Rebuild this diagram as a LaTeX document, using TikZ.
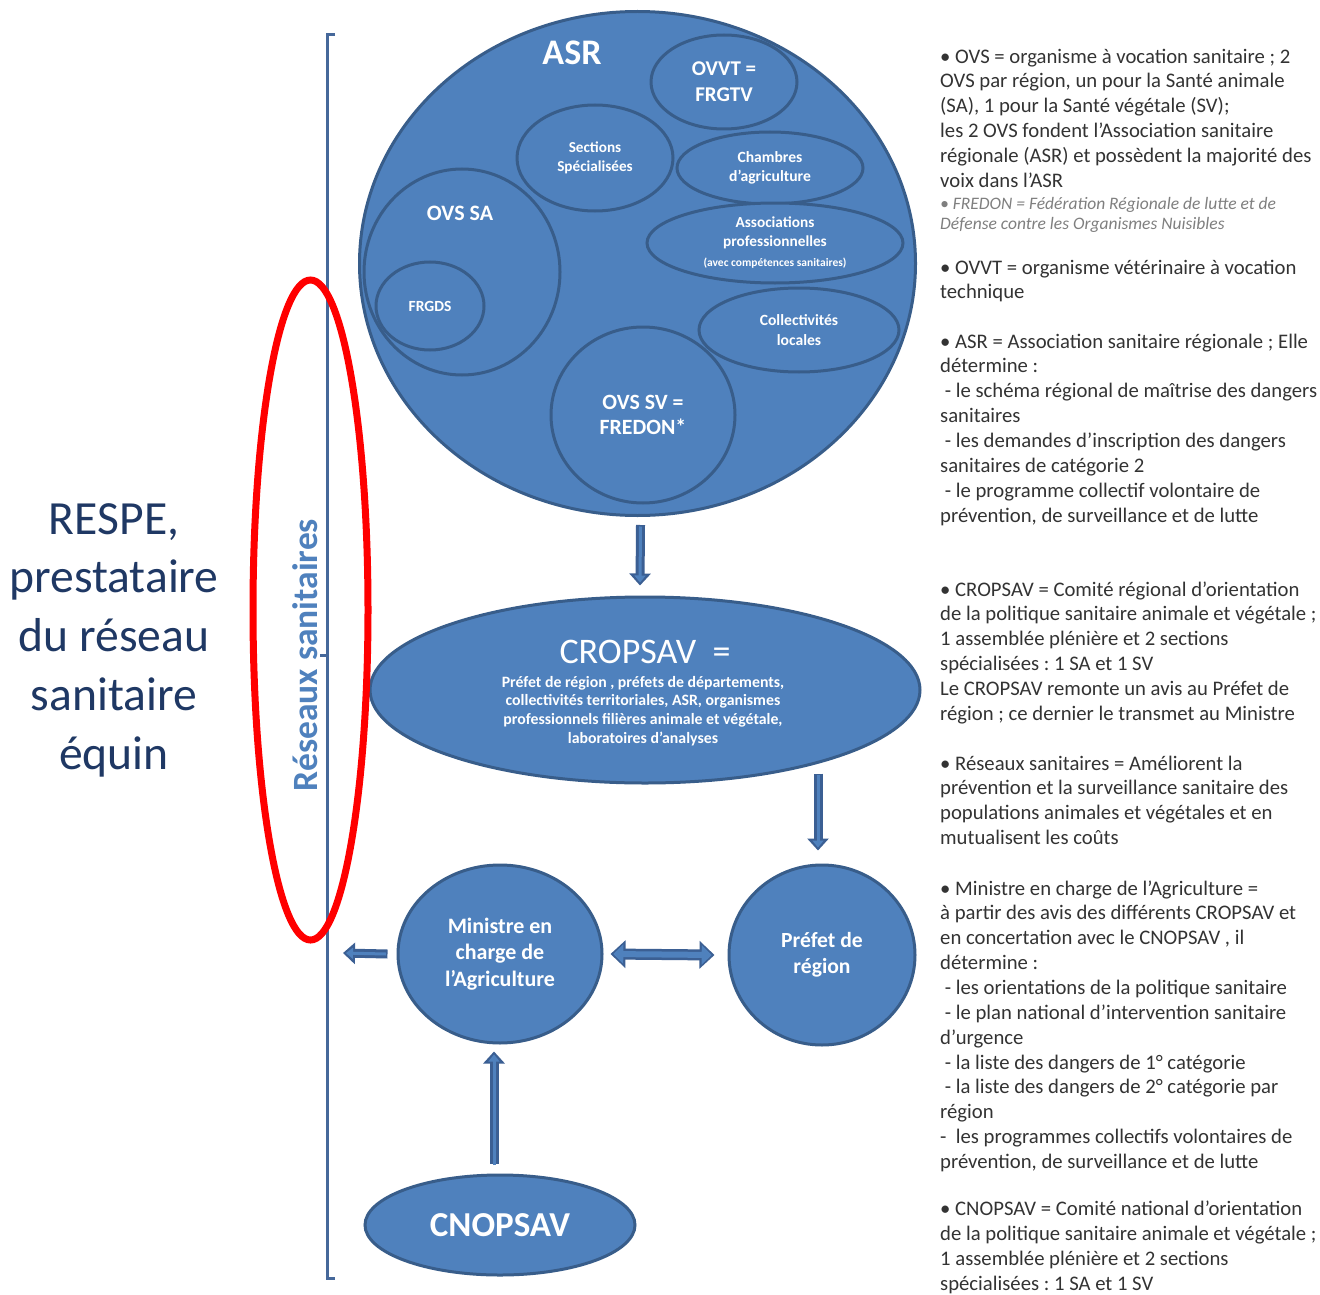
\documentclass[tikz,border=0pt]{standalone}
\usepackage{fontspec}
\setmainfont{Carlito}
\usetikzlibrary{shapes.geometric,arrows.meta,calc}
\frenchspacing
\definecolor{fillb}{HTML}{4F81BD}
\definecolor{lineb}{HTML}{385D8A}
\definecolor{arrb}{HTML}{3B5F93}
\definecolor{brkc}{HTML}{46689A}
\definecolor{navy}{HTML}{1F3864}
\definecolor{txtg}{HTML}{333333}
\definecolor{fredg}{HTML}{7F7F7F}
\newcommand\fsz[2]{\fontsize{#1}{#2}\selectfont}
\tikzset{
  blob/.style={ellipse, draw=lineb, line width=3pt, fill=fillb, inner sep=0pt, text=white, align=center},
  lbl/.style={text=white, align=center, inner sep=0pt},
  arrout/.style={draw=arrb, line width=9pt, -{Triangle[length=12pt,width=21pt]}},
  arrin/.style={draw=fillb, line width=3pt, -{Triangle[length=7pt,width=11pt]}, shorten >=3pt},
  dblout/.style={draw=arrb, line width=11pt, {Triangle[length=15pt,width=27pt]}-{Triangle[length=15pt,width=27pt]}},
  dblin/.style={draw=fillb, line width=6pt, {Triangle[length=10pt,width=19pt]}-{Triangle[length=10pt,width=19pt]}, shorten >=2.8pt, shorten <=2.8pt},
  rtxt/.style={anchor=base west, align=left, inner sep=0pt, text=txtg, font=\fsz{20.7}{24.85}\frenchspacing},
  brk/.style={draw=brkc, line width=3pt}
}
\begin{document}
\begin{tikzpicture}[x=1pt,y=-1pt]
\path[use as bounding box, fill=white] (0,0) rectangle (1320,1295);

% bracket and vertical label
\draw[brk] (335,35) -- (327,35) -- (327,1278) -- (335,1278);
\draw[brk] (327,655) -- (320,655);
\node[rotate=90, text=fillb, inner sep=0pt, font=\fsz{35.5}{40}\bfseries] (resx) at (305,655) {Réseaux sanitaires};

% left label
\node[align=center, text=navy, inner sep=0pt, font=\fsz{47.6}{58.7}] (respe) at (114,640) {RESPE,\\prestataire\\du réseau\\sanitaire\\équin};

% ASR
\node[blob, minimum width=556pt, minimum height=504pt] (asr) at (637.5,263.5) {};
\node[lbl, font=\fsz{36}{40}\bfseries] (asrl) at (572,53) {ASR};
\node[blob, minimum width=196pt, minimum height=206pt] (ovssa) at (462,272) {};
\node[lbl, font=\fsz{22}{24}\bfseries] (ovssal) at (460,213) {OVS SA};
\node[blob, minimum width=108pt, minimum height=88pt, font=\fsz{15.5}{18}\bfseries] (frgds) at (430,306) {FRGDS};
\node[blob, minimum width=156pt, minimum height=106pt, font=\fsz{15.2}{18.5}\bfseries] (sect) at (595,158) {Sections\\Spécialisées};
\node[blob, minimum width=146pt, minimum height=94pt, font=\fsz{21}{26}\bfseries] (ovvt) at (724,82) {OVVT =\\FRGTV};
\node[blob, minimum width=186pt, minimum height=72pt, font=\fsz{15.6}{19}\bfseries] (chamb) at (770,168) {Chambres\\d’agriculture};
\node[blob, minimum width=256pt, minimum height=80pt, font=\fsz{15.3}{19}\bfseries] (assoc) at (775,243) {Associations\\professionnelles\\[1pt]{\fsz{11.5}{13}(avec compétences sanitaires)}};
\node[blob, minimum width=200pt, minimum height=84pt, font=\fsz{15.6}{20}\bfseries] (coll) at (799,330) {Collectivités\\locales};
\node[blob, minimum width=184pt, minimum height=176pt, font=\fsz{21.8}{25}\bfseries] (ovssv) at (643,415) {OVS SV =\\FREDON*};

% CROPSAV
\node[blob, minimum width=550pt, minimum height=186pt] (crop) at (645,690) {};
\node[lbl, font=\fsz{36}{40}] (cropt) at (645,652) {CROPSAV\ \ =};
\node[lbl, font=\fsz{15.8}{18.7}\bfseries] (crops) at (643,711) {Préfet de région , préfets de départements,\\collectivités territoriales, ASR, organismes\\professionnels filières animale et végétale,\\laboratoires d’analyses};

% lower nodes
\node[blob, minimum width=204pt, minimum height=178pt, font=\fsz{22}{26.5}\bfseries] (mini) at (500,954) {Ministre en\\charge de\\l’Agriculture};
\node[blob, minimum width=186pt, minimum height=180pt, font=\fsz{21.6}{26}\bfseries] (pref) at (822,955) {Préfet de\\région};
\node[blob, minimum width=270pt, minimum height=100pt, font=\fsz{35}{40}\bfseries] (cnop) at (500,1225) {CNOPSAV};
\coordinate (leftend) at (343,953);

% arrows
\draw[arrout] ([xshift=3pt,yshift=-8pt]asr.south) -- ([xshift=-5pt,yshift=10pt]crop.north);
\draw[arrin]  ([xshift=3pt,yshift=-9.5pt]asr.south) -- ([xshift=-5pt,yshift=10pt]crop.north);
\draw[arrout] ($(pref.north |- crop.south)+(-4,-11)$) -- ($(pref.north)+(-4,-13)$);
\draw[arrin]  ($(pref.north |- crop.south)+(-4,-9.5)$) -- ($(pref.north)+(-4,-13)$);
\draw[arrout] ([xshift=-9pt]mini.west) -- (leftend);
\draw[arrin]  ([xshift=-10.5pt]mini.west) -- (leftend);
\draw[arrout] ([xshift=-6pt,yshift=10pt]cnop.north) -- ([xshift=-6pt,yshift=-7pt]mini.south);
\draw[arrin]  ([xshift=-6pt,yshift=8.5pt]cnop.north) -- ([xshift=-6pt,yshift=-7pt]mini.south);
\draw[dblout] ([xshift=7pt]mini.east) -- ([xshift=-13pt]pref.west);
\draw[dblin]  ([xshift=7pt]mini.east) -- ([xshift=-13pt]pref.west);

% right-hand text (anchored at the baseline of the last line)
\node[rtxt] (t1) at (940,187.3) {• OVS = organisme à vocation sanitaire ; 2\\OVS par région, un pour la Santé animale\\(SA), 1 pour la Santé végétale (SV);\\les 2 OVS fondent l’Association sanitaire\\régionale (ASR) et possèdent la majorité des\\voix dans l’ASR};
\node[rtxt, text=fredg, font=\fsz{17.5}{20}\itshape] (t2) at (940,229) {• FREDON = Fédération Régionale de lutte et de\\Défense contre les Organismes Nuisibles};
\node[rtxt] (t3) at (940,298.9) {• OVVT = organisme vétérinaire à vocation\\technique};
\node[rtxt] (t4) at (940,522) {• ASR = Association sanitaire régionale ; Elle\\détermine :\\\ - le schéma régional de maîtrise des dangers\\sanitaires\\\ - les demandes d’inscription des dangers\\sanitaires de catégorie 2\\\ - le programme collectif volontaire de\\prévention, de surveillance et de lutte};
\node[rtxt] (t5) at (940,720.3) {• CROPSAV = Comité régional d’orientation\\de la politique sanitaire animale et végétale ;\\1 assemblée plénière et 2 sections\\spécialisées : 1 SA et 1 SV\\Le CROPSAV remonte un avis au Préfet de\\région ; ce dernier le transmet au Ministre};
\node[rtxt] (t6) at (940,844.6) {• Réseaux sanitaires = Améliorent la\\prévention et la surveillance sanitaire des\\populations animales et végétales et en\\mutualisent les coûts};
\node[rtxt] (t7) at (940,1168.4) {• Ministre en charge de l’Agriculture =\\à partir des avis des différents CROPSAV et\\en concertation avec le CNOPSAV , il\\détermine :\\\ - les orientations de la politique sanitaire\\\ - le plan national d’intervention sanitaire\\d’urgence\\\ - la liste des dangers de 1° catégorie\\\ - la liste des dangers de 2° catégorie par\\région\\-\ \ les programmes collectifs volontaires de\\prévention, de surveillance et de lutte};
\node[rtxt] (t8) at (940,1290) {• CNOPSAV = Comité national d’orientation\\de la politique sanitaire animale et végétale ;\\1 assemblée plénière et 2 sections\\spécialisées : 1 SA et 1 SV};

% red highlight
\node[draw=red, line width=7pt, ellipse, minimum width=115pt, minimum height=660pt, inner sep=0pt] (redov) at (310.5,610) {};
\end{tikzpicture}
\end{document}
